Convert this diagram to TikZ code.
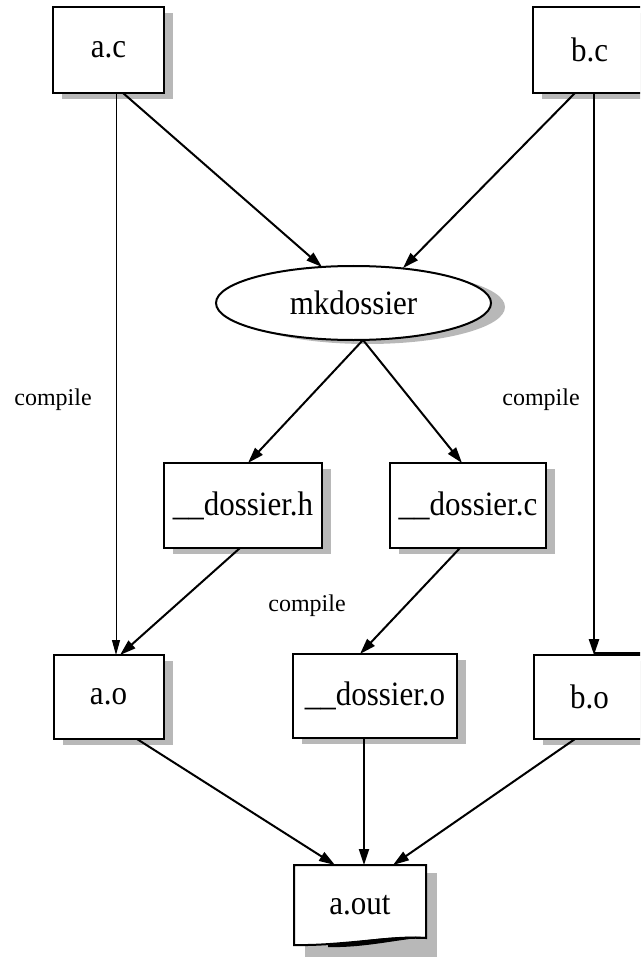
\documentclass[tikz,border=0pt]{standalone}
\usepackage{fontspec}
\setmainfont{Liberation Serif}
\usetikzlibrary{arrows.meta,shapes.geometric,shadows}
\newcommand\stretchtxt[1]{\scalebox{1}[1.1]{#1}}
\colorlet{shadowcol}{black!28}
\begin{document}
\begin{tikzpicture}[x=1pt,y=-1pt,
  every node/.style={inner sep=0pt,outer sep=0pt},
  boxfont/.style={font=\fontsize{31}{31}\selectfont},
  filebox/.style={rectangle,draw,line width=2pt,fill=white,boxfont,
    drop shadow={shadow xshift=9pt,shadow yshift=-6pt,fill=shadowcol,opacity=1}},
  procnode/.style={ellipse,draw,line width=2pt,fill=white,boxfont,
    drop shadow={shadow xshift=14pt,shadow yshift=-4pt,fill=shadowcol,opacity=1}},
  lbl/.style={font=\fontsize{24}{24}\selectfont},
  arr/.style={line width=2pt,-{Triangle[length=16pt,width=10pt]}},
  thinarr/.style={line width=1pt,-{Triangle[length=15pt,width=8pt]}},
  thickarr/.style={line width=2.6pt,-{Triangle[length=16pt,width=10pt]}}
]
\useasboundingbox (0,0) rectangle (640,957);
\clip (0,0) rectangle (640,957);

% nodes
\node[filebox,minimum width=111,minimum height=86] (ac) at (108.5,50) {\stretchtxt{a.c}};
\node[filebox,minimum width=113,minimum height=86] (bc) at (589.5,50) {\stretchtxt{b.c}};
\node[procnode,minimum width=275,minimum height=74] (mk) at (353.5,303) {\stretchtxt{mkdossier}};
\node[filebox,minimum width=158,minimum height=85] (dh) at (243,505.5) {\stretchtxt{\_\_dossier.h}};
\node[filebox,minimum width=156,minimum height=85] (dc) at (468,505.5) {\stretchtxt{\_\_dossier.c}};
\node[filebox,minimum width=110,minimum height=84] (ao) at (108.5,697) {\stretchtxt{a.o}};
\node[filebox,minimum width=164,minimum height=84] (do) at (375,696) {\stretchtxt{\_\_dossier.o}};
\node[filebox,minimum width=111,minimum height=84] (bo) at (589.5,697) {\stretchtxt{b.o}};

% a.out document shape
\fill[shadowcol] (305,873) rectangle (437,962);
\draw[line width=2pt,fill=white] (294,865) -- (426,865) -- (426,938)
  .. controls (390,936) and (340,946) .. (294,945) -- cycle;
\fill (328,945) .. controls (362,941) and (395,935) .. (426,937)
  .. controls (395,940) and (362,948) .. (328,947) -- cycle;
\node[boxfont,minimum width=132,minimum height=80] (aout) at (360,905) {\stretchtxt{a.out}};

% labels
\node[lbl] (l1) at (53,400) {compile};
\node[lbl] (l2) at (541,400) {compile};
\node[lbl] (l3) at (307,606) {compile};

% connectors
\draw[thinarr] ([xshift=7.5pt]ac.south) -- ([xshift=7.5pt]ao.north);
\draw[arr] ([xshift=14.5pt]ac.south) -- ([xshift=-31.5pt,yshift=-1pt]mk.north);
\draw[arr] ([xshift=-14.5pt]bc.south) -- ([xshift=49.5pt,yshift=-2pt]mk.north);
\draw[thickarr] ([xshift=4.5pt]bc.south) -- ([xshift=4.5pt]bo.north);
\draw[line width=2.6pt] ([xshift=4.5pt,yshift=2pt]bo.north) -- ([yshift=2pt]bo.north east);
\draw[arr] ([xshift=9.5pt]mk.south) -- ([xshift=5pt]dh.north);
\draw[arr] ([xshift=9.5pt]mk.south) -- ([xshift=-6pt]dc.north);
\draw[arr] ([xshift=-3pt]dh.south) -- ([xshift=11.5pt]ao.north);
\draw[arr] ([xshift=-8pt]dc.south) -- ([xshift=-15pt]do.north);
\draw[arr] ([xshift=28.5pt]ao.south) -- ([xshift=-25pt]aout.north);
\draw[arr] ([xshift=-11pt]do.south) -- ([xshift=4pt]aout.north);
\draw[arr] ([xshift=-14.5pt]bo.south) -- ([xshift=33pt]aout.north);
\end{tikzpicture}
\end{document}
